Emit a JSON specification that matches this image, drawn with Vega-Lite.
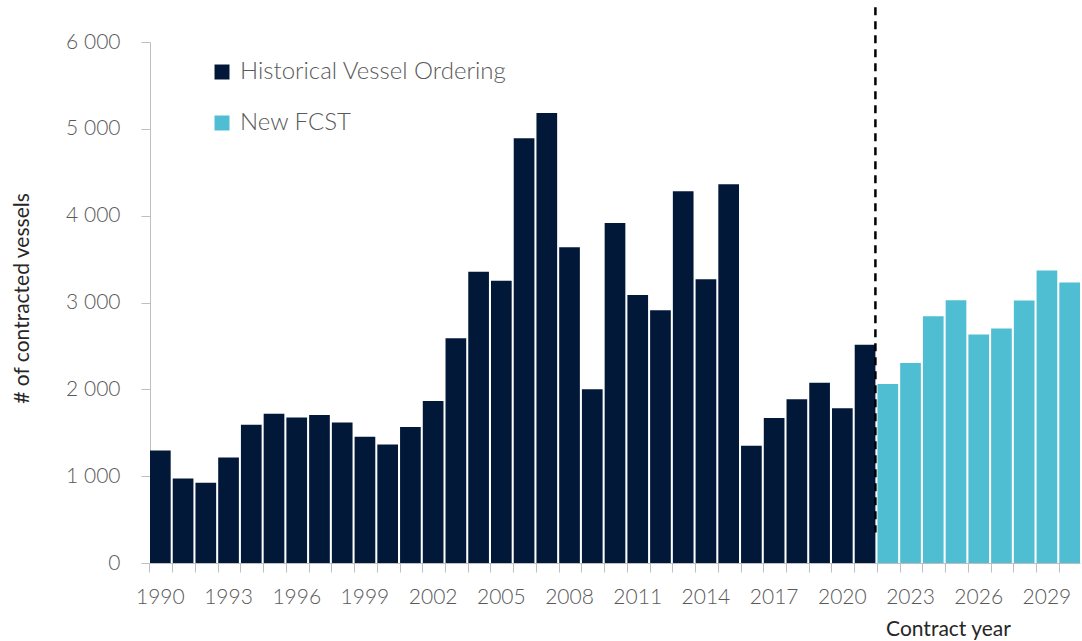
{
  "$schema": "https://vega.github.io/schema/vega-lite/v6.json",
  "width": 930,
  "height": 521,
  "autosize": "none",
  "padding": {"left": 150, "top": 42, "right": 2, "bottom": 78},
  "background": "white",
  "config": {"view": {"stroke": null}, "font": "Lato"},
  "data": {
    "values": [
      {"year": 1990, "value": 1296, "series": "Historical Vessel Ordering"},
      {"year": 1991, "value": 973, "series": "Historical Vessel Ordering"},
      {"year": 1992, "value": 923, "series": "Historical Vessel Ordering"},
      {"year": 1993, "value": 1215, "series": "Historical Vessel Ordering"},
      {"year": 1994, "value": 1592, "series": "Historical Vessel Ordering"},
      {"year": 1995, "value": 1719, "series": "Historical Vessel Ordering"},
      {"year": 1996, "value": 1677, "series": "Historical Vessel Ordering"},
      {"year": 1997, "value": 1704, "series": "Historical Vessel Ordering"},
      {"year": 1998, "value": 1619, "series": "Historical Vessel Ordering"},
      {"year": 1999, "value": 1454, "series": "Historical Vessel Ordering"},
      {"year": 2000, "value": 1365, "series": "Historical Vessel Ordering"},
      {"year": 2001, "value": 1565, "series": "Historical Vessel Ordering"},
      {"year": 2002, "value": 1865, "series": "Historical Vessel Ordering"},
      {"year": 2003, "value": 2588, "series": "Historical Vessel Ordering"},
      {"year": 2004, "value": 3354, "series": "Historical Vessel Ordering"},
      {"year": 2005, "value": 3250, "series": "Historical Vessel Ordering"},
      {"year": 2006, "value": 4892, "series": "Historical Vessel Ordering"},
      {"year": 2007, "value": 5181, "series": "Historical Vessel Ordering"},
      {"year": 2008, "value": 3635, "series": "Historical Vessel Ordering"},
      {"year": 2009, "value": 2000, "series": "Historical Vessel Ordering"},
      {"year": 2010, "value": 3915, "series": "Historical Vessel Ordering"},
      {"year": 2011, "value": 3085, "series": "Historical Vessel Ordering"},
      {"year": 2012, "value": 2912, "series": "Historical Vessel Ordering"},
      {"year": 2013, "value": 4281, "series": "Historical Vessel Ordering"},
      {"year": 2014, "value": 3269, "series": "Historical Vessel Ordering"},
      {"year": 2015, "value": 4362, "series": "Historical Vessel Ordering"},
      {"year": 2016, "value": 1350, "series": "Historical Vessel Ordering"},
      {"year": 2017, "value": 1669, "series": "Historical Vessel Ordering"},
      {"year": 2018, "value": 1885, "series": "Historical Vessel Ordering"},
      {"year": 2019, "value": 2077, "series": "Historical Vessel Ordering"},
      {"year": 2020, "value": 1781, "series": "Historical Vessel Ordering"},
      {"year": 2021, "value": 2512, "series": "Historical Vessel Ordering"},
      {"year": 2022, "value": 2062, "series": "New FCST"},
      {"year": 2023, "value": 2304, "series": "New FCST"},
      {"year": 2024, "value": 2842, "series": "New FCST"},
      {"year": 2025, "value": 3027, "series": "New FCST"},
      {"year": 2026, "value": 2631, "series": "New FCST"},
      {"year": 2027, "value": 2700, "series": "New FCST"},
      {"year": 2028, "value": 3023, "series": "New FCST"},
      {"year": 2029, "value": 3369, "series": "New FCST"},
      {"year": 2030, "value": 3231, "series": "New FCST"}
    ]
  },
  "layer": [
    {
      "mark": {"type": "bar"},
      "encoding": {
        "x": {
          "field": "year",
          "type": "ordinal",
          "scale": {"paddingInner": 0.09, "paddingOuter": 0},
          "axis": {
            "title": "Contract year",
            "titleFont": "Lato",
            "titleFontSize": 21,
            "titleFontWeight": "normal",
            "titleColor": "#262626",
            "titleX": 798,
            "titleY": 66,
            "titleAlign": "center",
            "titleBaseline": "middle",
            "labelExpr": "(datum.value - 1990) % 3 == 0 ? datum.label : ''",
            "labelAngle": 0,
            "labelFont": "Lato",
            "labelFontSize": 21,
            "labelFontWeight": 300,
            "labelColor": "#595959",
            "labelPadding": 14,
            "labelOverlap": false,
            "tickSize": 9,
            "tickColor": "#BFBFBF",
            "domainColor": "#BFBFBF",
            "bandPosition": 0,
            "grid": false
          }
        },
        "y": {
          "field": "value",
          "type": "quantitative",
          "scale": {"domain": [0, 6000], "nice": false},
          "axis": {
            "title": "# of contracted vessels",
            "values": [0, 1000, 2000, 3000, 4000, 5000, 6000],
            "labelExpr": "replace(format(datum.value, ','), ',', ' ')",
            "labelFont": "Lato",
            "labelFontSize": 21,
            "labelFontWeight": 300,
            "labelColor": "#595959",
            "labelPadding": 21,
            "tickSize": 9,
            "tickColor": "#BFBFBF",
            "domainColor": "#BFBFBF",
            "grid": false,
            "titleFont": "Lato",
            "titleFontSize": 21,
            "titleFontWeight": "normal",
            "titleColor": "#262626",
            "titleX": -128,
            "titleY": 256,
            "titleAngle": -90,
            "titleAlign": "center",
            "titleBaseline": "middle"
          }
        },
        "color": {
          "field": "series",
          "type": "nominal",
          "scale": {"domain": ["Historical Vessel Ordering", "New FCST"], "range": ["#021838", "#50BED2"]},
          "legend": {
            "title": null,
            "orient": "none",
            "legendX": 60,
            "legendY": 18,
            "direction": "vertical",
            "symbolType": "square",
            "symbolSize": 225,
            "symbolStrokeWidth": 0,
            "labelFont": "Lato",
            "labelFontSize": 24,
            "labelFontWeight": 300,
            "labelColor": "#595959",
            "labelOffset": 6,
            "labelLimit": 500,
            "rowPadding": 27,
            "padding": 0
          }
        }
      }
    },
    {
      "transform": [{"filter": "datum.year == 2021"}],
      "mark": {"type": "rule", "strokeDash": [8, 6], "strokeWidth": 2.5, "color": "#000000"},
      "encoding": {
        "x": {"field": "year", "type": "ordinal", "bandPosition": 1},
        "y": {"datum": 6400, "type": "quantitative"},
        "y2": {"datum": 350}
      }
    }
  ]
}
